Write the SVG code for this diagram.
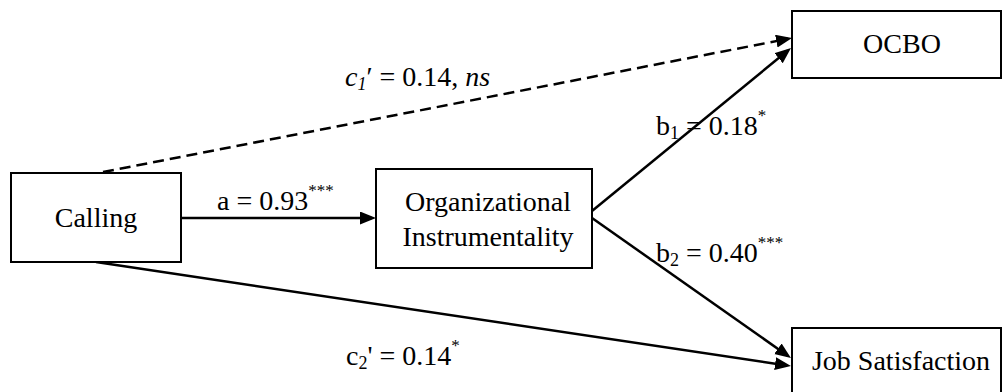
<svg xmlns="http://www.w3.org/2000/svg" width="1003" height="392" viewBox="0 0 1003 392">
<style>
  .box { fill: #ffffff; stroke: #000000; stroke-width: 2; }
  .node { font-family: "Liberation Serif", "Times New Roman", serif; font-size: 28px; fill: #000; text-anchor: middle; }
  .lbl { font-family: "Liberation Serif", "Times New Roman", serif; font-size: 28px; fill: #000; }
  .sub { font-size: 18px; }
  .sup { font-size: 17px; }
  .edge { stroke: #000; stroke-width: 2.5; fill: none; marker-end: url(#arrow); }
  .dash { stroke-dasharray: 11 6; }
</style>
<defs>
  <marker id="arrow" markerUnits="userSpaceOnUse" markerWidth="18" markerHeight="14" refX="12" refY="6.5" orient="auto">
    <path d="M0,0 L16,6.5 L0,13 Z" fill="#000"/>
  </marker>
</defs>
<rect width="1003" height="392" fill="#ffffff"/>

<g id="connectors">
  <line class="edge dash" x1="103" y1="172" x2="788.1" y2="38.8"/>
  <line class="edge" x1="181" y1="218" x2="372" y2="218"/>
  <line class="edge" x1="592" y1="211" x2="787.9" y2="50.5"/>
  <line class="edge" x1="592" y1="218" x2="787.7" y2="355.7"/>
  <line class="edge" x1="96" y1="262" x2="787" y2="365.4"/>
</g>

<g id="node-calling">
  <rect class="box" x="11" y="173" width="170" height="89"/>
  <text class="node" x="96" y="227">Calling</text>
</g>
<g id="node-org">
  <rect class="box" x="376" y="169" width="216" height="99"/>
  <text class="node" x="488" y="210.5">Organizational</text>
  <text class="node" x="488" y="245.5">Instrumentality</text>
</g>
<g id="node-ocbo">
  <rect class="box" x="792" y="11" width="209" height="67"/>
  <text class="node" x="902" y="53">OCBO</text>
</g>
<g id="node-job">
  <rect class="box" x="792" y="328" width="209" height="67"/>
  <text class="node" x="901" y="370">Job Satisfaction</text>
</g>

<g id="labels">
  <text class="lbl" x="345" y="86"><tspan font-style="italic">c</tspan><tspan class="sub" font-style="italic" dy="4">1</tspan><tspan dy="-4">′ = 0.14, </tspan><tspan font-style="italic">ns</tspan></text>
  <text class="lbl" x="217" y="210">a = 0.93<tspan class="sup" dy="-14">***</tspan></text>
  <text class="lbl" x="656" y="135">b<tspan class="sub" dy="4">1</tspan><tspan dy="-4"> = 0.18</tspan><tspan class="sup" dy="-14">*</tspan></text>
  <text class="lbl" x="656" y="261.5">b<tspan class="sub" dy="4">2</tspan><tspan dy="-4"> = 0.40</tspan><tspan class="sup" dy="-14">***</tspan></text>
  <text class="lbl" x="346" y="365">c<tspan class="sub" dy="4">2</tspan><tspan dy="-4">' = 0.14</tspan><tspan class="sup" dy="-14">*</tspan></text>
</g>
</svg>
